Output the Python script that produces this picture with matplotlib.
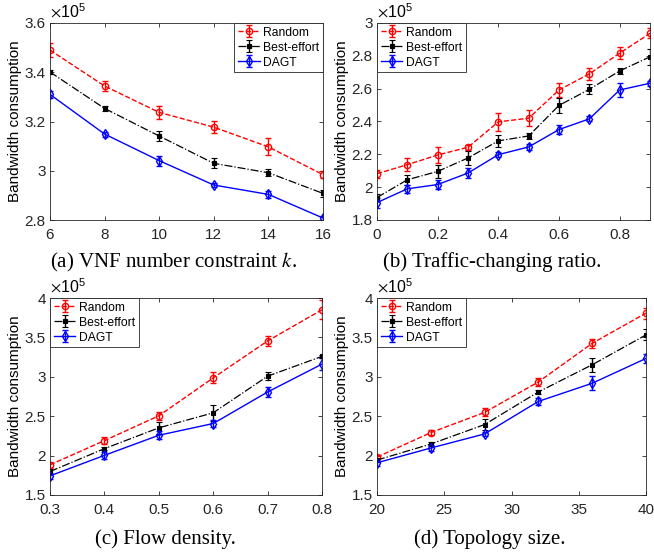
import numpy as np
import matplotlib
matplotlib.use('Agg')
import matplotlib.pyplot as plt
import matplotlib.ticker

plt.rcParams['font.family'] = 'Liberation Sans'
plt.rcParams['mathtext.fontset'] = 'stix'

# values in units of 1e5
k_vals = [6, 8, 10, 12, 14, 16]
a_random = [3.49, 3.344, 3.237, 3.177, 3.097, 2.984]
a_best = [3.401, 3.253, 3.141, 3.030, 2.992, 2.908]
a_dagt = [3.310, 3.149, 3.041, 2.942, 2.904, 2.808]
a_random_err = [0.03, 0.02, 0.025, 0.025, 0.035, 0.015]
a_best_err = [0.01, 0.01, 0.02, 0.02, 0.015, 0.015]
a_dagt_err = [0.015, 0.01, 0.02, 0.01, 0.015, 0.01]

ratio_vals = [0, 0.1, 0.2, 0.3, 0.4, 0.5, 0.6, 0.7, 0.8, 0.9]
b_random = [2.082, 2.137, 2.196, 2.243, 2.398, 2.420, 2.592, 2.690, 2.816, 2.937]
b_best = [1.937, 2.045, 2.096, 2.178, 2.282, 2.312, 2.498, 2.596, 2.708, 2.794]
b_dagt = [1.906, 1.990, 2.016, 2.086, 2.198, 2.245, 2.351, 2.416, 2.592, 2.633]
b_random_err = [0.025, 0.04, 0.05, 0.015, 0.055, 0.05, 0.04, 0.035, 0.035, 0.03]
b_best_err = [0.02, 0.03, 0.04, 0.04, 0.035, 0.02, 0.045, 0.03, 0.02, 0.05]
b_dagt_err = [0.03, 0.025, 0.03, 0.03, 0.015, 0.02, 0.025, 0.015, 0.04, 0.015]

density_vals = [0.3, 0.4, 0.5, 0.6, 0.7, 0.8]
c_random = [1.883, 2.190, 2.505, 2.986, 3.455, 3.851]
c_best = [1.798, 2.088, 2.352, 2.543, 3.008, 3.259]
c_dagt = [1.743, 2.003, 2.258, 2.407, 2.807, 3.161]
c_random_err = [0.04, 0.04, 0.05, 0.07, 0.06, 0.12]
c_best_err = [0.03, 0.02, 0.08, 0.1, 0.05, 0.02]
c_dagt_err = [0.04, 0.04, 0.05, 0.04, 0.06, 0.08]

topo_vals = [20, 24, 28, 32, 36, 40]
d_random = [1.981, 2.292, 2.548, 2.935, 3.425, 3.808]
d_best = [1.943, 2.147, 2.394, 2.808, 3.153, 3.532]
d_dagt = [1.909, 2.096, 2.275, 2.688, 2.918, 3.233]
d_random_err = [0.03, 0.03, 0.05, 0.05, 0.06, 0.07]
d_best_err = [0.02, 0.03, 0.07, 0.02, 0.09, 0.07]
d_dagt_err = [0.04, 0.04, 0.03, 0.04, 0.09, 0.06]

panels = [
    dict(x=k_vals, r=a_random, b=a_best, d=a_dagt, re=a_random_err, be=a_best_err, de=a_dagt_err,
         xlim=(6, 16), xticks=[6, 8, 10, 12, 14, 16], ylim=(2.8, 3.6), yticks=[2.8, 3.0, 3.2, 3.4, 3.6],
         loc='upper right', rect=[50, 23, 323, 220], cap=(174, 262),
         caption='(a) VNF number constraint $k$.'),
    dict(x=ratio_vals, r=b_random, b=b_best, d=b_dagt, re=b_random_err, be=b_best_err, de=b_dagt_err,
         xlim=(0, 0.9), xticks=[0, 0.2, 0.4, 0.6, 0.8], ylim=(1.8, 3.0), yticks=[1.8, 2.0, 2.2, 2.4, 2.6, 2.8, 3.0],
         loc='upper left', rect=[377, 23, 650, 220], cap=(492, 262),
         caption='(b) Traffic-changing ratio.'),
    dict(x=density_vals, r=c_random, b=c_best, d=c_dagt, re=c_random_err, be=c_best_err, de=c_dagt_err,
         xlim=(0.3, 0.8), xticks=[0.3, 0.4, 0.5, 0.6, 0.7, 0.8], ylim=(1.5, 4.0), yticks=[1.5, 2, 2.5, 3, 3.5, 4],
         loc='upper left', rect=[50, 298, 322, 495], cap=(165, 539),
         caption='(c) Flow density.'),
    dict(x=topo_vals, r=d_random, b=d_best, d=d_dagt, re=d_random_err, be=d_best_err, de=d_dagt_err,
         xlim=(20, 40), xticks=[20, 25, 30, 35, 40], ylim=(1.5, 4.0), yticks=[1.5, 2, 2.5, 3, 3.5, 4],
         loc='upper left', rect=[377, 298, 646, 495], cap=(490, 539),
         caption='(d) Topology size.'),
]

W, H = 654, 555
fig = plt.figure(figsize=(W / 100, H / 100), dpi=100)

for p in panels:
    l, t, r, b = p['rect']
    ax = fig.add_axes([l / W, 1 - b / H, (r - l) / W, (b - t) / H])
    ax.errorbar(p['x'], p['r'], yerr=p['re'], color='red', ls='--', lw=1.0, marker='o', ms=4.5,
                mfc='none', mew=1.0, capsize=2, elinewidth=1.0, label='Random')
    ax.errorbar(p['x'], p['b'], yerr=p['be'], color='black', ls='-.', lw=0.9, marker='s', ms=3,
                mfc='black', mew=0.8, capsize=2, elinewidth=1.0, label='Best-effort')
    ax.errorbar(p['x'], p['d'], yerr=p['de'], color='blue', ls='-', lw=1.0, marker='d', ms=5,
                mfc='none', mew=1.0, capsize=2, elinewidth=1.0, label='DAGT')
    ax.set_xlim(*p['xlim'])
    ax.set_ylim(*p['ylim'])
    ax.set_xticks(p['xticks'])
    ax.set_yticks(p['yticks'])
    ax.xaxis.set_major_formatter(matplotlib.ticker.FormatStrFormatter('%g'))
    ax.yaxis.set_major_formatter(matplotlib.ticker.FormatStrFormatter('%g'))
    ax.tick_params(direction='in', top=True, right=True, labelsize=11, length=3, width=0.6,
                   colors='#262626', pad=3)
    ax.tick_params(axis='x', pad=6)
    for s in ax.spines.values():
        s.set_color('#262626')
        s.set_linewidth(0.6)
    ax.set_ylabel('Bandwidth consumption', fontsize=11, labelpad=2)
    ax.text(0.0, 1.01, r'$\times\mathregular{10^5}$', transform=ax.transAxes, fontsize=11.5,
            ha='left', va='bottom', family='Liberation Sans')
    leg = ax.legend(loc=p['loc'], fontsize=8.7, borderaxespad=0, fancybox=False,
                    handlelength=1.8, handletextpad=0.3, borderpad=0.3, labelspacing=0.25,
                    edgecolor='#262626', framealpha=1)
    leg.get_frame().set_linewidth(0.6)
    fig.text(p['cap'][0] / W, 1 - p['cap'][1] / H, p['caption'], ha='center', va='center',
             fontsize=15, family='Liberation Serif')

fig.savefig('out.png', dpi=100)
